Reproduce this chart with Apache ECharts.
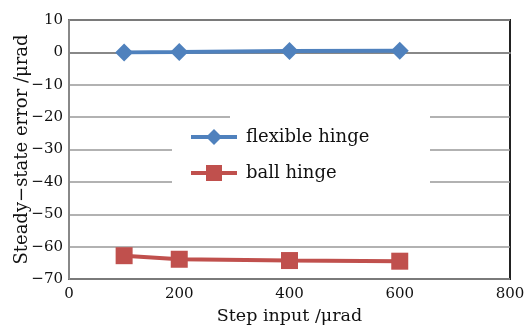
<!DOCTYPE html>
<html><head><meta charset="utf-8">
<script src="https://cdn.jsdelivr.net/npm/echarts@6/dist/echarts.min.js"></script>
<style>html,body{margin:0;padding:0;background:#fff}#c{width:526px;height:326px}</style>
</head><body><div id="c"></div>
<script>
var stepInputs = [100, 200, 400, 600];
var flexibleHinge = [0, 0.1, 0.4, 0.5];
var ballHinge = [-62.8, -63.9, -64.3, -64.5];
var seriesNames = ['flexible hinge', 'ball hinge'];
var xName = 'Step input /\u03bcrad';
var yName = 'Steady\u2212state error /\u03bcrad';

var font = 'DejaVu Serif';
function pairs(xs, ys){ return xs.map(function(x,i){ return [x, ys[i]]; }); }
var chart = echarts.init(document.getElementById('c'), null, {renderer:'canvas'});
chart.setOption({
  animation: false,
  backgroundColor: '#fff',
  grid: {left: 69, right: 16, top: 20, bottom: 47, outerBoundsMode: 'none', containLabel: false,
         show: true, borderColor: '#222', borderWidth: 2, backgroundColor: 'transparent'},
  xAxis: {
    type: 'value', min: 0, max: 800, interval: 200,
    name: xName, nameLocation: 'middle', nameGap: 28, nameMoveOverlap: false,
    nameTextStyle: {fontFamily: font, fontSize: 17.5, color: '#111'},
    axisLine: {show: true, lineStyle: {color: '#888', width: 2}},
    axisTick: {show: false},
    axisLabel: {fontFamily: font, fontSize: 15, color: '#111', margin: 8, formatter: function(v){ return String(v); }},
    splitLine: {show: false}
  },
  yAxis: {
    type: 'value', min: -70, max: 10, interval: 10,
    name: yName, nameLocation: 'middle', nameGap: 38, nameMoveOverlap: false,
    nameTextStyle: {fontFamily: font, fontSize: 18, color: '#111'},
    axisLine: {show: true, lineStyle: {color: '#888', width: 2}},
    axisTick: {show: false},
    axisLabel: {fontFamily: font, fontSize: 15, color: '#111', margin: 6, formatter: function(v){ return String(v).replace('-', '\u2212'); }},
    splitLine: {show: true, lineStyle: {color: '#999', width: 1.5}}
  },
  graphic: [
    {type: 'rect', z: 1, shape: {x: 172, y: 119, width: 258, height: 72}, style: {fill: '#fff'}},
    {type: 'rect', z: 1, shape: {x: 230, y: 112, width: 200, height: 10}, style: {fill: '#fff'}}
  ],
  legend: {
    orient: 'vertical', left: 184, top: 123, z: 5,
    itemWidth: 46, itemHeight: 20, itemGap: 18,
    lineStyle: {width: 4},
    textStyle: {fontFamily: font, fontSize: 18, color: '#111', padding: [0,0,0,4]},
    data: seriesNames
  },
  series: [
    {name: seriesNames[0], type: 'line', data: pairs(stepInputs, flexibleHinge),
     symbol: 'diamond', symbolSize: 18, color: '#4f81bd',
     lineStyle: {width: 4, color: '#4f81bd'}, itemStyle: {color: '#4f81bd'}},
    {name: seriesNames[1], type: 'line', data: pairs(stepInputs, ballHinge),
     symbol: 'rect', symbolSize: 17, color: '#c0504d',
     lineStyle: {width: 4, color: '#c0504d'}, itemStyle: {color: '#c0504d'}}
  ]
});
</script></body></html>
